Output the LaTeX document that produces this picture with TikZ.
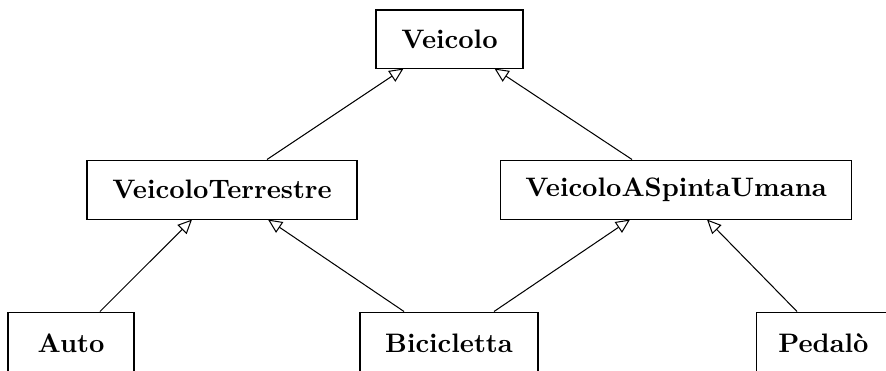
\documentclass[tikz,border=0pt]{standalone}
\usetikzlibrary{arrows.meta,calc}
\begin{document}
\begin{tikzpicture}[
  x=0.389pt, y=-0.389pt,
  cls/.style={draw, line width=0.4pt, font=\fontsize{10.4}{12}\selectfont\bfseries, inner sep=0pt,
              minimum height=59*0.389pt},
  inh/.style={-{Triangle[open,length=5.5pt,width=5pt]}, line width=0.4pt}
]
\useasboundingbox (0,0) rectangle (886,370);
\clip (0,0) rectangle (886,370);

% class hierarchy
\node[cls, minimum width=147*0.389pt, minimum height=58*0.389pt] (veicolo) at (449.5,39) {Veicolo};
\node[cls, minimum width=270*0.389pt] (vt)   at (222,189.5) {VeicoloTerrestre};
\node[cls, minimum width=351*0.389pt] (vasu) at (676,189.5) {VeicoloASpintaUmana};
\node[cls, minimum width=126*0.389pt, minimum height=62*0.389pt] (auto)   at (71,343)    {Auto};
\node[cls, minimum width=178*0.389pt, minimum height=62*0.389pt] (bici)   at (449,343)   {Bicicletta};
\node[cls, minimum width=135*0.389pt, minimum height=62*0.389pt] (pedalo) at (823.5,343) {Pedalò};

% generalisation arrows
\draw[inh] ($(vt.north)+(45,0)$)     -- ($(veicolo.south)+(-46,0)$);
\draw[inh] ($(vasu.north)+(-44,0)$)  -- ($(veicolo.south)+(45,0)$);
\draw[inh] ($(auto.north)+(29,0)$)   -- ($(vt.south)+(-30,0)$);
\draw[inh] ($(bici.north)+(-45,0)$)  -- ($(vt.south)+(46,0)$);
\draw[inh] ($(bici.north)+(45,0)$)   -- ($(vasu.south)+(-46,0)$);
\draw[inh] ($(pedalo.north)+(-26.5,0)$) -- ($(vasu.south)+(31,0)$);
\end{tikzpicture}
\end{document}
